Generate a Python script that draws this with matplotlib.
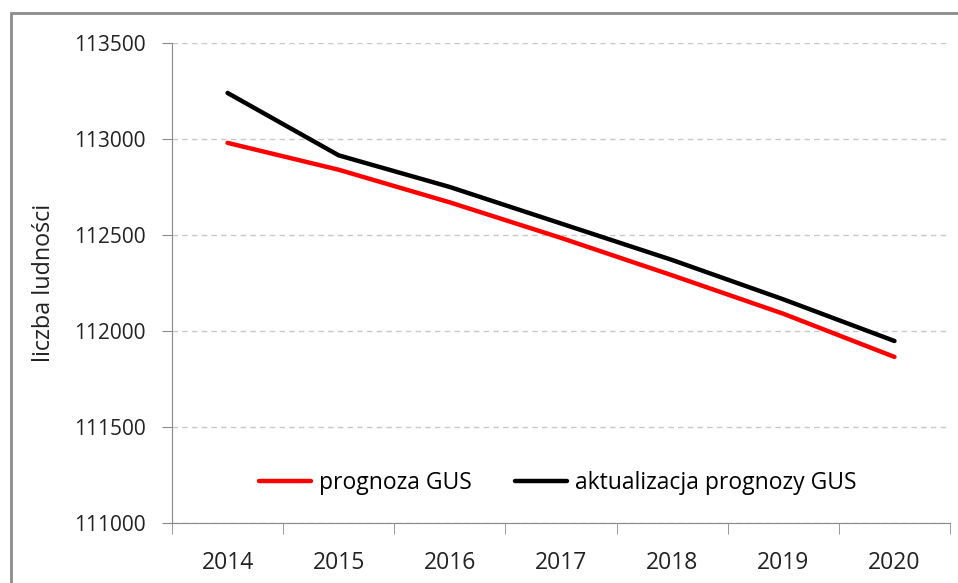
import matplotlib.pyplot as plt
from matplotlib.patches import Rectangle

years = ['2014', '2015', '2016', '2017', '2018', '2019', '2020']
prognoza = [112980, 112840, 112670, 112485, 112290, 112090, 111865]
aktualizacja = [113240, 112915, 112750, 112560, 112370, 112165, 111948]
yticks = [111000, 111500, 112000, 112500, 113000, 113500]

plt.rcParams['font.family'] = ['Open Sans', 'DejaVu Sans']

fig = plt.figure(figsize=(9.58, 5.83), dpi=100)
ax = fig.add_axes([0.1795, 0.1029, 0.8122, 0.8233])

x = range(len(years))
ax.plot(x, prognoza, color='#ff0000', lw=3.2, label='prognoza GUS', solid_capstyle='round')
ax.plot(x, aktualizacja, color='black', lw=3.2, label='aktualizacja prognozy GUS', solid_capstyle='round')

ax.set_xlim(-0.5, len(years) - 0.5)
ax.set_ylim(111000, 113500)
ax.set_yticks(yticks)
ax.set_yticklabels([str(v) for v in yticks], fontsize=15, color='#222222')
ax.set_xticks(list(x))
ax.set_xticklabels(years, fontsize=16.5, color='#222222')
ax.set_xticks([i - 0.5 for i in range(len(years) + 1)], minor=True)
ax.tick_params(axis='x', which='major', length=0, pad=20)
ax.tick_params(axis='x', which='minor', length=8, color='#888888', direction='out')
ax.tick_params(axis='y', length=7, color='#888888', pad=12)

ax.grid(axis='y', color='#c8c8c8', linestyle=(0, (4, 3)), lw=1)
ax.set_axisbelow(True)
for s in ['top', 'right']:
    ax.spines[s].set_visible(False)
ax.spines['left'].set_color('#888888')
ax.spines['bottom'].set_color('#888888')

ax.set_ylabel('liczba ludności', fontsize=16.8, color='#222222', labelpad=13)

ax.legend(loc='center', bbox_to_anchor=(0.496, 0.083), ncol=2, frameon=False,
          fontsize=16.5, handlelength=2.25, handletextpad=0.35, columnspacing=1.9)

# outer chart border
fig.patches.append(Rectangle((11 / 958, -0.05), 1.0, 1 - 13 / 583 + 0.05,
                             transform=fig.transFigure, fill=False,
                             edgecolor='#8c8c8c', lw=2))

fig.savefig('out.png', dpi=100)
